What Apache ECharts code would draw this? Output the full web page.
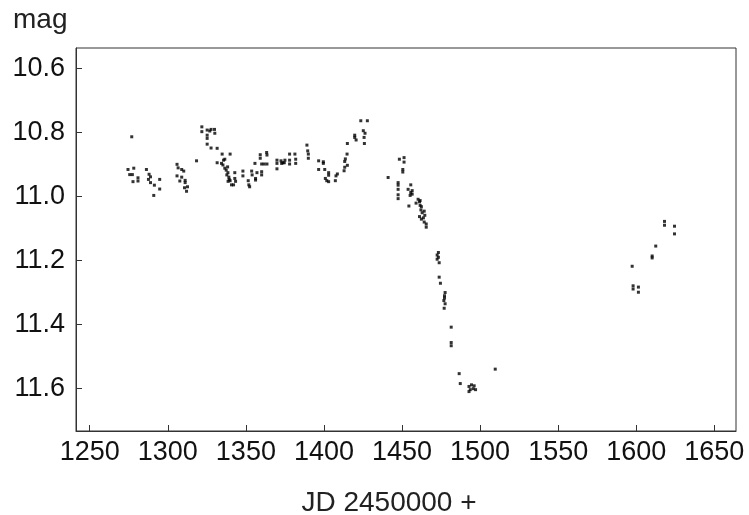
<!DOCTYPE html>
<html>
<head>
<meta charset="utf-8">
<script src="https://cdn.jsdelivr.net/npm/echarts@6/dist/echarts.min.js"></script>
<style>
html, body { margin: 0; padding: 0; background: #fff; }
#chart { width: 749px; height: 515px; }
</style>
</head>
<body>
<div id="chart"></div>
<script>
// JD - 2450000
var jd = [
  1276.9, 1274.5, 1278.2, 1275.6, 1277.3, 1277.7, 1280.9, 1280.9, 1286.3, 1288.0,
  1288.9, 1287.6, 1288.9, 1291.4, 1291.0, 1294.8, 1294.8, 1305.9, 1306.6, 1308.9,
  1310.2, 1305.9, 1308.9, 1311.1, 1311.1, 1307.7, 1310.7, 1312.0, 1312.6, 1318.4,
  1321.8, 1321.8, 1325.2, 1325.2, 1325.2, 1326.9, 1327.7, 1329.9, 1330.1, 1325.2,
  1327.7, 1331.6, 1331.6, 1334.8, 1339.9, 1334.4, 1335.7, 1336.5, 1335.3, 1336.5,
  1337.4, 1338.3, 1338.5, 1337.8, 1339.1, 1339.3, 1339.9, 1338.6, 1340.8, 1342.1,
  1342.9, 1342.9, 1343.4, 1348.1, 1348.1, 1351.5, 1351.9, 1352.4, 1353.7, 1354.0,
  1355.8, 1356.2, 1356.2, 1357.1, 1359.2, 1359.2, 1360.1, 1361.7, 1360.1, 1360.1,
  1363.3, 1363.5, 1363.5, 1369.9, 1369.9, 1369.9, 1372.5, 1372.9, 1373.7, 1374.6,
  1375.0, 1378.0, 1378.0, 1378.0, 1381.4, 1381.9, 1381.9, 1389.1, 1389.6, 1390.0,
  1390.0, 1396.6, 1399.6, 1399.6, 1396.6, 1400.5, 1403.0, 1403.0, 1400.9, 1401.8,
  1403.0, 1407.3, 1407.7, 1408.6, 1412.9, 1413.3, 1415.0, 1413.3, 1413.7, 1414.8,
  1415.0, 1419.7, 1419.7, 1420.6, 1425.7, 1425.9, 1425.2, 1426.3, 1423.6, 1427.8,
  1441.1, 1448.3, 1451.3, 1451.3, 1450.5, 1450.5, 1447.5, 1447.5, 1447.5, 1447.5,
  1447.5, 1455.6, 1453.9, 1456.5, 1455.6, 1455.2, 1456.5, 1454.4, 1459.0, 1460.3,
  1461.2, 1461.6, 1461.6, 1462.4, 1462.1, 1462.9, 1464.2, 1464.6, 1461.2, 1462.4,
  1463.7, 1464.2, 1465.5, 1465.5, 1473.3, 1472.5, 1473.3, 1472.5, 1473.8, 1473.8,
  1474.6, 1477.6, 1477.2, 1477.2, 1476.8, 1477.6, 1477.0, 1481.5, 1481.5, 1481.5,
  1486.6, 1487.3, 1492.9, 1494.5, 1496.2, 1493.7, 1492.9, 1497.1, 1495.6, 1509.7,
  1597.4, 1598.0, 1598.0, 1601.4, 1601.4, 1610.2, 1610.2, 1612.5, 1618.1, 1618.1,
  1624.5, 1624.5
];
var mag = [
  10.814, 10.916, 10.912, 10.932, 10.932, 10.954, 10.942, 10.952, 10.916, 10.931,
  10.939, 10.947, 10.957, 10.965, 10.997, 10.947, 10.977, 10.900, 10.911, 10.916,
  10.921, 10.936, 10.940, 10.950, 10.957, 10.952, 10.973, 10.984, 10.970, 10.889,
  10.783, 10.798, 10.793, 10.809, 10.819, 10.796, 10.791, 10.791, 10.803, 10.837,
  10.849, 10.850, 10.895, 10.868, 10.868, 10.897, 10.887, 10.884, 10.902, 10.912,
  10.918, 10.908, 10.926, 10.933, 10.940, 10.947, 10.951, 10.953, 10.964, 10.964,
  10.926, 10.944, 10.953, 10.921, 10.936, 10.951, 10.964, 10.970, 10.921, 10.933,
  10.897, 10.944, 10.949, 10.926, 10.870, 10.881, 10.899, 10.899, 10.923, 10.933,
  10.863, 10.871, 10.899, 10.887, 10.897, 10.914, 10.889, 10.897, 10.895, 10.895,
  10.887, 10.868, 10.887, 10.899, 10.868, 10.884, 10.897, 10.840, 10.858, 10.868,
  10.881, 10.889, 10.892, 10.897, 10.916, 10.916, 10.926, 10.934, 10.944, 10.951,
  10.954, 10.951, 10.936, 10.930, 10.920, 10.909, 10.903, 10.891, 10.883, 10.868,
  10.835, 10.809, 10.816, 10.824, 10.816, 10.835, 10.795, 10.803, 10.764, 10.764,
  10.941, 10.884, 10.879, 10.893, 10.916, 10.924, 10.957, 10.965, 10.978, 10.995,
  11.007, 10.964, 10.978, 10.982, 10.988, 10.997, 10.993, 11.030, 11.021, 11.009,
  11.017, 11.013, 11.028, 11.032, 11.042, 11.051, 11.046, 11.059, 11.063, 11.071,
  11.067, 11.080, 11.086, 11.096, 11.175, 11.183, 11.190, 11.196, 11.207, 11.252,
  11.271, 11.300, 11.310, 11.317, 11.325, 11.335, 11.349, 11.408, 11.456, 11.466,
  11.553, 11.584, 11.593, 11.588, 11.591, 11.603, 11.609, 11.603, 11.600, 11.539,
  11.218, 11.279, 11.289, 11.283, 11.299, 11.186, 11.192, 11.155, 11.078, 11.090,
  11.093, 11.117
];
var xTicks = [1250, 1300, 1350, 1400, 1450, 1500, 1550, 1600, 1650];
var yTicks = [10.6, 10.8, 11.0, 11.2, 11.4, 11.6];

var myChart = echarts.init(document.getElementById('chart'));
var pts = [];
for (var i = 0; i < jd.length; i++) pts.push([jd[i], mag[i]]);

var labelFont = {
  color: '#111',
  fontFamily: 'Liberation Sans, Arial, sans-serif',
  fontSize: 27
};

option = {
  animation: false,
  backgroundColor: '#fff',
  grid: {
    left: 76,
    right: 13,
    top: 48,
    bottom: 84,
    outerBoundsMode: 'none',
    containLabel: false,
    show: true,
    borderColor: '#333',
    borderWidth: 1
  },
  graphic: [{
    type: 'text',
    left: 13,
    top: 6,
    style: {
      text: 'mag',
      fill: '#222',
      font: '28px Liberation Sans, Arial, sans-serif'
    }
  }],
  xAxis: {
    type: 'value',
    min: 1241.2,
    max: 1663.9,
    name: 'JD 2450000 +',
    nameLocation: 'middle',
    nameGap: 58,
    nameTextStyle: {
      color: '#222',
      fontFamily: 'Liberation Sans, Arial, sans-serif',
      fontSize: 28,
      padding: [0, 34, 0, 0]
    },
    axisLine: { lineStyle: { color: '#333' } },
    axisTick: {
      inside: true,
      length: 6,
      customValues: xTicks,
      lineStyle: { color: '#333' }
    },
    axisLabel: Object.assign({
      margin: 8,
      customValues: xTicks,
      formatter: function (v) { return String(v); }
    }, labelFont),
    splitLine: { show: false }
  },
  yAxis: {
    type: 'value',
    inverse: true,
    min: 10.537,
    max: 11.732,
    axisLine: { show: true, lineStyle: { color: '#333' } },
    axisTick: {
      show: true,
      inside: true,
      length: 6,
      customValues: yTicks,
      lineStyle: { color: '#333' }
    },
    axisLabel: Object.assign({
      margin: 11,
      customValues: yTicks,
      formatter: function (v) { return v.toFixed(1); }
    }, labelFont),
    splitLine: { show: false }
  },
  series: [{
    type: 'scatter',
    symbol: 'rect',
    symbolSize: 3,
    itemStyle: { color: '#000' },
    data: pts
  }]
};

myChart.setOption(option);
</script>
</body>
</html>
